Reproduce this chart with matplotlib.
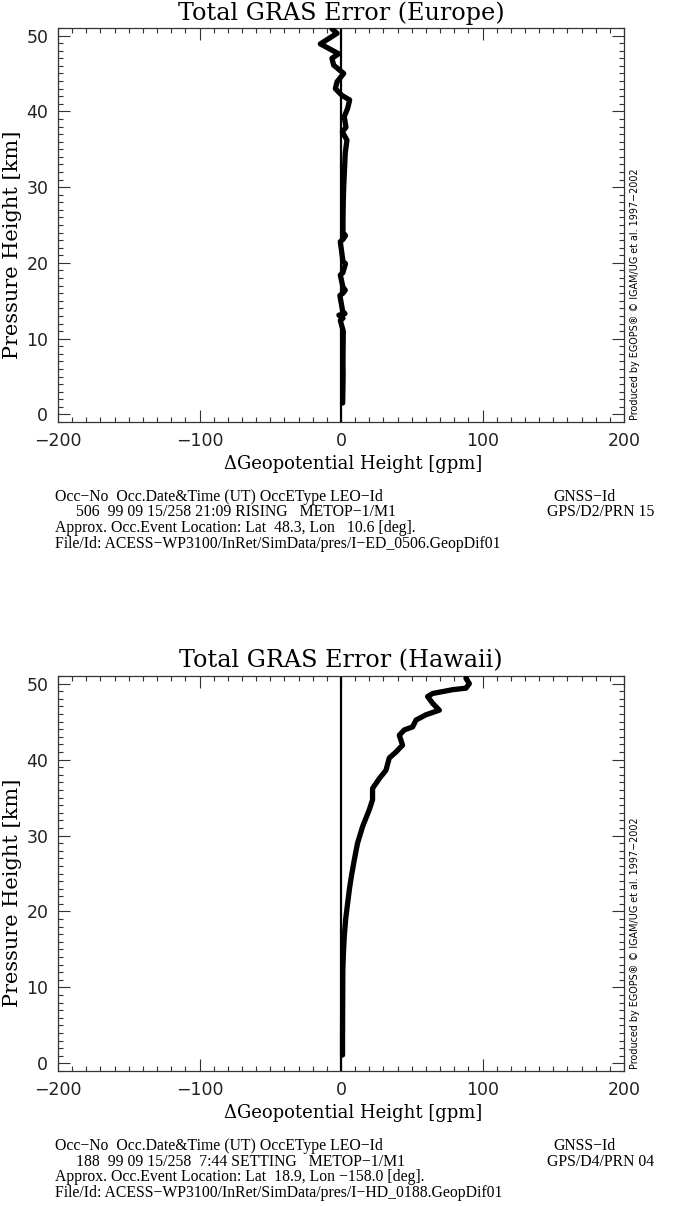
import matplotlib
matplotlib.use("Agg")
import matplotlib.pyplot as plt
from matplotlib.ticker import MultipleLocator

# ---- data ----
europe_height = [1.5, 3, 5, 7, 9, 11, 12.4, 12.7, 13.1, 13.3, 13.6, 15.7, 16.0, 16.4, 16.8,
                 18.4, 18.7, 19.9, 20.2, 22.8, 23.1, 23.6, 24.0, 25.6, 28.0, 30.0, 32.0,
                 34.5, 36.2, 37.3, 37.9, 39.3, 40.4, 41.5, 42.1, 43.0, 43.9, 45.0, 46.1,
                 47.0, 47.6, 48.9, 50.3, 50.9]
europe_dgph = [1.2, 1.3, 1.5, 1.4, 1.5, 1.6, -0.5, 1.4, -1.5, 2.8, 1.2, -0.8, 1.4, 3.0, 1.4,
               -0.5, 1.3, 3.2, 1.4, -0.5, 1.4, 3.2, 1.4, 1.4, 1.6, 1.9, 2.4,
               3.0, 4.2, 0.9, 3.5, 2.3, 4.7, 6.1, 0.7, -4.0, -2.8, 1.9, -5.2,
               -6.4, -1.7, -14.6, -2.8, -6.4]

hawaii_height = [1.1, 3.5, 8.0, 12.3, 14.5, 16.7, 19.0, 21.1, 23.0, 24.6, 26.8, 29.0, 31.2,
                 33.4, 34.7, 36.2, 37.5, 38.6, 40.2, 41.0, 41.9, 43.2, 43.9, 44.3, 45.2,
                 45.9, 46.5, 47.4, 48.3, 48.7, 49.2, 49.4, 50.0, 50.7]
hawaii_dgph = [1.1, 1.1, 1.2, 1.3, 1.7, 2.3, 3.3, 4.7, 6.0, 7.3, 9.4, 11.7, 15.3,
               20.0, 22.3, 22.3, 27.1, 31.8, 34.1, 38.9, 43.5, 41.2, 44.7, 50.6, 53.0,
               60.1, 69.5, 64.8, 61.2, 64.8, 78.9, 88.3, 90.7, 88.3]

x_ticks = [-200, -100, 0, 100, 200]
y_ticks = [0, 10, 20, 30, 40, 50]

titles = ["Total GRAS Error (Europe)", "Total GRAS Error (Hawaii)"]
info_lines = [
    ["Occ\u2212No  Occ.Date&Time (UT) OccEType LEO\u2212Id", "GNSS\u2212Id",
     "506  99 09 15/258 21:09 RISING   METOP\u22121/M1", "GPS/D2/PRN 15",
     "Approx. Occ.Event Location: Lat  48.3, Lon   10.6 [deg].",
     "File/Id: ACESS\u2212WP3100/InRet/SimData/pres/I\u2212ED_0506.GeopDif01"],
    ["Occ\u2212No  Occ.Date&Time (UT) OccEType LEO\u2212Id", "GNSS\u2212Id",
     "188  99 09 15/258  7:44 SETTING   METOP\u22121/M1", "GPS/D4/PRN 04",
     "Approx. Occ.Event Location: Lat  18.9, Lon \u2212158.0 [deg].",
     "File/Id: ACESS\u2212WP3100/InRet/SimData/pres/I\u2212HD_0188.GeopDif01"],
]
credit = "Produced by EGOPS\u00ae \u00a9 IGAM/UG et al. 1997\u22122002"

W, H = 682, 1206
fig = plt.figure(figsize=(W / 100, H / 100), dpi=100)
fig.patch.set_facecolor("white")

def fx(px):
    return px / W

def fy(py):
    return 1 - py / H

serif = ["DejaVu Serif"]
tserif = ["Liberation Serif", "DejaVu Serif"]
sans = ["DejaVu Sans"]

panels = [
    dict(top=28, bottom=422, x=europe_dgph, y=europe_height),
    dict(top=676, bottom=1071, x=hawaii_dgph, y=hawaii_height),
]
left_px, right_px = 58, 624

for i, p in enumerate(panels):
    ax = fig.add_axes([fx(left_px), fy(p["bottom"]), (right_px - left_px) / W,
                       (p["bottom"] - p["top"]) / H])
    ax.set_xlim(-200, 200)
    ax.set_ylim(-1, 51)
    ax.axvline(0, color="black", lw=1.6, zorder=2)
    ax.plot(p["x"], p["y"], color="black", lw=3.8, solid_capstyle="round",
            solid_joinstyle="round", zorder=3)
    ax.set_xticks(x_ticks)
    ax.set_yticks(y_ticks)
    ax.xaxis.set_minor_locator(MultipleLocator(10))
    ax.yaxis.set_minor_locator(MultipleLocator(1))
    ax.tick_params(which="both", direction="in", top=True, right=True,
                   colors="#333333", width=0.8)
    ax.tick_params(which="major", length=8.5, pad=7)
    ax.tick_params(which="minor", length=3.5)
    ax.tick_params(axis="both", labelsize=12.5, labelcolor="#222222")
    for lab in ax.get_xticklabels() + ax.get_yticklabels():
        lab.set_family(sans)
    for s in ax.spines.values():
        s.set_linewidth(0.9)
        s.set_color("#333333")
    ax.set_xlabel("\u0394Geopotential Height [gpm]", fontsize=13, family=serif)
    ax.set_ylabel("Pressure Height [km]", fontsize=15, family=serif)
    ax.xaxis.set_label_coords(0.521, -0.083)
    ax.yaxis.set_label_coords(-0.064, 0.45)
    ax.set_title(titles[i], fontsize=17.2, family=serif, pad=6)

    # credit text on right side
    fig.text(fx(635), fy(p["bottom"] - 2), credit, rotation=90, fontsize=6.9,
             family=sans, ha="center", va="bottom")

    # info text
    base = p["bottom"] + 75
    lines = info_lines[i]
    fs = 11.3
    fig.text(fx(55), fy(base), lines[0], fontsize=fs, family=tserif, va="center")
    fig.text(fx(553), fy(base), lines[1], fontsize=fs, family=tserif, va="center")
    fig.text(fx(76), fy(base + 15.5), lines[2], fontsize=fs, family=tserif, va="center")
    fig.text(fx(547), fy(base + 15.5), lines[3], fontsize=fs, family=tserif, va="center")
    fig.text(fx(55), fy(base + 31), lines[4], fontsize=fs, family=tserif, va="center")
    fig.text(fx(55), fy(base + 47), lines[5], fontsize=fs, family=tserif, va="center")

fig.savefig("out.png", dpi=100, facecolor="white")
